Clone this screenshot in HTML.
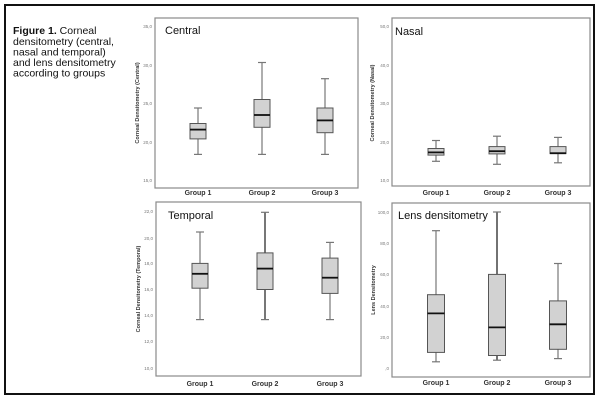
<!DOCTYPE html>
<html><head><meta charset="utf-8"><style>
html,body{margin:0;padding:0;background:#fff;}
svg{display:block;font-family:"Liberation Sans",Arial,sans-serif;}
.fr{fill:none;stroke:#8a8a8a;stroke-width:1.2}
.bx{fill:#d2d2d2;stroke:#555;stroke-width:1}
.wk{stroke:#777;stroke-width:1.2}
.md{stroke:#111;stroke-width:1.8}
.tk{font-size:4.5px;fill:#777;text-anchor:end}
.gl{font-size:7px;font-weight:bold;fill:#333;text-anchor:middle}
.at{font-size:5.5px;font-weight:bold;fill:#333;text-anchor:middle}
.tt{font-size:11px;fill:#111}
</style></head><body>
<svg width="600" height="401" viewBox="0 0 600 401">
<rect x="0" y="0" width="600" height="401" fill="#fff"/>
<rect x="5" y="5" width="589" height="389" fill="none" stroke="#111" stroke-width="2"/>
<g font-size="10.5" fill="#111">
<text x="13" y="34"><tspan font-weight="bold">Figure 1.</tspan> Corneal</text>
<text x="13" y="45">densitometry (central,</text>
<text x="13" y="55.5">nasal and temporal)</text>
<text x="13" y="66">and lens densitometry</text>
<text x="13" y="76.5">according to groups</text>
</g>

<!-- Central -->
<rect class="fr" x="155" y="18" width="203" height="170"/>
<text class="tt" x="165" y="34">Central</text>
<g class="tk"><text x="152" y="28">35,0</text><text x="152" y="67">30,0</text><text x="152" y="105">25,0</text><text x="152" y="144">20,0</text><text x="152" y="182">15,0</text></g>
<text class="at" transform="translate(139,103) rotate(-90)">Corneal Densitometry (Central)</text>
<g class="gl"><text x="198" y="195">Group 1</text><text x="262" y="195">Group 2</text><text x="325" y="195">Group 3</text></g>
<g>
<line class="wk" x1="198" y1="108" x2="198" y2="154.4"/><line class="wk" x1="194" y1="108" x2="202" y2="108"/><line class="wk" x1="194" y1="154.4" x2="202" y2="154.4"/>
<rect class="bx" x="190" y="123.5" width="16" height="15.4"/><line class="md" x1="190" y1="129.6" x2="206" y2="129.6"/>
<line class="wk" x1="262" y1="62.5" x2="262" y2="154.4"/><line class="wk" x1="258" y1="62.5" x2="266" y2="62.5"/><line class="wk" x1="258" y1="154.4" x2="266" y2="154.4"/>
<rect class="bx" x="254" y="99.5" width="16" height="27.8"/><line class="md" x1="254" y1="115" x2="270" y2="115"/>
<line class="wk" x1="325" y1="78.7" x2="325" y2="154.4"/><line class="wk" x1="321" y1="78.7" x2="329" y2="78.7"/><line class="wk" x1="321" y1="154.4" x2="329" y2="154.4"/>
<rect class="bx" x="317" y="108" width="16" height="24.7"/><line class="md" x1="317" y1="120.4" x2="333" y2="120.4"/>
</g>

<!-- Nasal -->
<rect class="fr" x="392" y="18" width="198" height="168"/>
<text class="tt" x="395" y="35">Nasal</text>
<g class="tk"><text x="389" y="28">50,0</text><text x="389" y="67">40,0</text><text x="389" y="105">30,0</text><text x="389" y="144">20,0</text><text x="389" y="182">10,0</text></g>
<text class="at" transform="translate(374,103) rotate(-90)">Corneal Densitometry (Nasal)</text>
<g class="gl"><text x="436" y="195">Group 1</text><text x="497" y="195">Group 2</text><text x="558" y="195">Group 3</text></g>
<g>
<line class="wk" x1="436" y1="140.5" x2="436" y2="161.3"/><line class="wk" x1="432" y1="140.5" x2="440" y2="140.5"/><line class="wk" x1="432" y1="161.3" x2="440" y2="161.3"/>
<rect class="bx" x="428" y="148.5" width="16" height="6.6"/><line class="md" x1="428" y1="152.4" x2="444" y2="152.4"/>
<line class="wk" x1="497" y1="136.2" x2="497" y2="164.3"/><line class="wk" x1="493" y1="136.2" x2="501" y2="136.2"/><line class="wk" x1="493" y1="164.3" x2="501" y2="164.3"/>
<rect class="bx" x="489" y="146.6" width="16" height="7.3"/><line class="md" x1="489" y1="151.2" x2="505" y2="151.2"/>
<line class="wk" x1="558" y1="137.4" x2="558" y2="162.8"/><line class="wk" x1="554" y1="137.4" x2="562" y2="137.4"/><line class="wk" x1="554" y1="162.8" x2="562" y2="162.8"/>
<rect class="bx" x="550" y="146.6" width="16" height="7"/><line class="md" x1="550" y1="153.2" x2="566" y2="153.2"/>
</g>

<!-- Temporal -->
<rect class="fr" x="156" y="202" width="205" height="174"/>
<text class="tt" x="168" y="219">Temporal</text>
<g class="tk"><text x="153" y="213">22,0</text><text x="153" y="240">20,0</text><text x="153" y="265">18,0</text><text x="153" y="291">16,0</text><text x="153" y="317">14,0</text><text x="153" y="343">12,0</text><text x="153" y="370">10,0</text></g>
<text class="at" transform="translate(140,289) rotate(-90)">Corneal Densitometry (Temporal)</text>
<g class="gl"><text x="200" y="386">Group 1</text><text x="265" y="386">Group 2</text><text x="330" y="386">Group 3</text></g>
<g>
<line class="wk" x1="200" y1="232" x2="200" y2="319.6"/><line class="wk" x1="196" y1="232" x2="204" y2="232"/><line class="wk" x1="196" y1="319.6" x2="204" y2="319.6"/>
<rect class="bx" x="192" y="263.4" width="16" height="24.8"/><line class="md" x1="192" y1="273.8" x2="208" y2="273.8"/>
<line class="wk" x1="265" y1="212.3" x2="265" y2="319.6" style="stroke:#555;stroke-width:1.6"/><line class="wk" x1="261" y1="212.3" x2="269" y2="212.3"/><line class="wk" x1="261" y1="319.6" x2="269" y2="319.6"/>
<rect class="bx" x="257" y="252.9" width="16" height="36.6"/><line class="md" x1="257" y1="268.6" x2="273" y2="268.6"/>
<line class="wk" x1="330" y1="242.4" x2="330" y2="319.6"/><line class="wk" x1="326" y1="242.4" x2="334" y2="242.4"/><line class="wk" x1="326" y1="319.6" x2="334" y2="319.6"/>
<rect class="bx" x="322" y="258.1" width="16" height="35.3"/><line class="md" x1="322" y1="277.7" x2="338" y2="277.7"/>
</g>

<!-- Lens -->
<rect class="fr" x="392" y="203" width="198" height="174"/>
<text class="tt" x="398" y="219">Lens densitometry</text>
<g class="tk"><text x="389" y="214">100,0</text><text x="389" y="245">80,0</text><text x="389" y="276">60,0</text><text x="389" y="308">40,0</text><text x="389" y="339">20,0</text><text x="389" y="370">,0</text></g>
<text class="at" transform="translate(375,290) rotate(-90)">Lens Densitometry</text>
<g class="gl"><text x="436" y="385">Group 1</text><text x="497" y="385">Group 2</text><text x="558" y="385">Group 3</text></g>
<g>
<line class="wk" x1="436" y1="230.7" x2="436" y2="361.8"/><line class="wk" x1="432" y1="230.7" x2="440" y2="230.7"/><line class="wk" x1="432" y1="361.8" x2="440" y2="361.8"/>
<rect class="bx" x="427.5" y="294.7" width="17" height="57.7"/><line class="md" x1="427.5" y1="313.4" x2="444.5" y2="313.4"/>
<line class="wk" x1="497" y1="212" x2="497" y2="360.2" style="stroke:#444;stroke-width:1.5"/><line class="wk" x1="493" y1="212" x2="501" y2="212"/><line class="wk" x1="493" y1="360.2" x2="501" y2="360.2"/>
<rect class="bx" x="488.5" y="274.4" width="17" height="81.1"/><line class="md" x1="488.5" y1="327.4" x2="505.5" y2="327.4"/>
<line class="wk" x1="558" y1="263.5" x2="558" y2="358.6"/><line class="wk" x1="554" y1="263.5" x2="562" y2="263.5"/><line class="wk" x1="554" y1="358.6" x2="562" y2="358.6"/>
<rect class="bx" x="549.5" y="300.9" width="17" height="48.4"/><line class="md" x1="549.5" y1="324.3" x2="566.5" y2="324.3"/>
</g>
</svg>
</body></html>
